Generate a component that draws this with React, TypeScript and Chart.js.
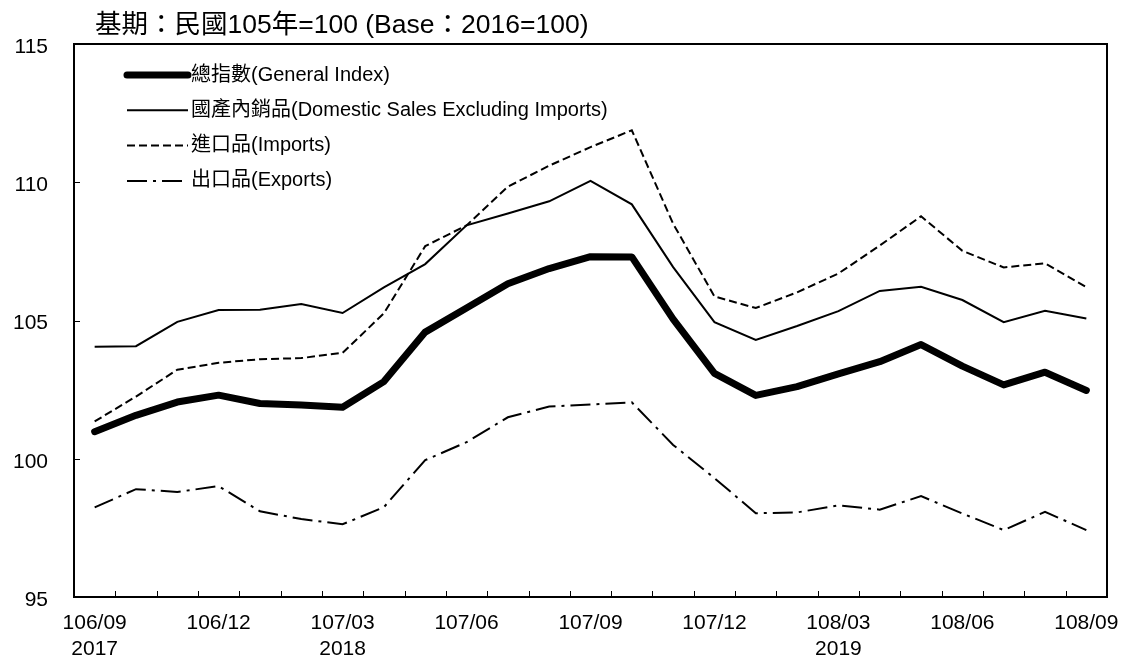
import React, { useEffect, useRef } from 'react';
import { Chart, registerables } from 'chart.js';

Chart.register(...registerables);

const months = [
  '106/09', '106/10', '106/11', '106/12', '107/01', '107/02', '107/03', '107/04', '107/05',
  '107/06', '107/07', '107/08', '107/09', '107/10', '107/11', '107/12', '108/01', '108/02',
  '108/03', '108/04', '108/05', '108/06', '108/07', '108/08', '108/09',
];

const tickYears: Record<string, string> = { '106/09': '2017', '107/03': '2018', '108/03': '2019' };

const generalIndex = [
  100.98, 101.57, 102.05, 102.3, 102.0, 101.94, 101.86, 102.79, 104.58, 105.45, 106.33, 106.88,
  107.31, 107.3, 105.05, 103.09, 102.29, 102.61, 103.07, 103.51, 104.13, 103.35, 102.67, 103.13, 102.47,
];
const domesticSales = [
  104.05, 104.07, 104.95, 105.38, 105.39, 105.6, 105.27, 106.2, 107.04, 108.44, 108.87, 109.31,
  110.05, 109.2, 106.93, 104.94, 104.3, 104.8, 105.34, 106.07, 106.22, 105.74, 104.94, 105.35, 105.07,
];
const importsIdx = [
  101.35, 102.25, 103.22, 103.47, 103.6, 103.64, 103.83, 105.26, 107.69, 108.44, 109.84, 110.6,
  111.27, 111.88, 108.5, 105.87, 105.45, 106.02, 106.7, 107.71, 108.77, 107.52, 106.92, 107.07, 106.21,
];
const exportsIdx = [
  98.24, 98.9, 98.8, 99.01, 98.1, 97.82, 97.63, 98.25, 99.95, 100.6, 101.5, 101.89,
  101.96, 102.04, 100.5, 99.3, 98.03, 98.06, 98.31, 98.16, 98.65, 98.02, 97.42, 98.08, 97.42,
];

const seriesNames = [
  '總指數(General Index)',
  '國產內銷品(Domestic Sales Excluding Imports)',
  '進口品(Imports)',
  '出口品(Exports)',
];

const titleText = '基期：民國105年=100 (Base：2016=100)';

const FONT = "'Liberation Sans', Arial, 'Noto Sans CJK TC', sans-serif";

const decorPlugin = {
  id: 'decor',
  afterDraw(chart: any) {
    const { ctx, chartArea, scales } = chart;
    const { left, right, top, bottom } = chartArea;
    const xs = scales.x;
    const ys = scales.y;
    ctx.save();
    ctx.strokeStyle = '#000';
    ctx.lineWidth = 1;
    ctx.setLineDash([]);
    ctx.beginPath();
    for (let i = 0; i < months.length - 1; i++) {
      const px = Math.round((xs.getPixelForValue(i) + xs.getPixelForValue(i + 1)) / 2) + 0.5;
      ctx.moveTo(px, bottom);
      ctx.lineTo(px, bottom - 6);
    }
    ys.ticks.forEach((t: any) => {
      if (t.value > ys.min && t.value < ys.max) {
        const py = Math.round(ys.getPixelForValue(t.value)) + 0.5;
        ctx.moveTo(left, py);
        ctx.lineTo(left + 6, py);
      }
    });
    ctx.stroke();

    ctx.lineWidth = 2;
    ctx.strokeRect(left, top, right - left, bottom - top);

    ctx.fillStyle = '#000';
    // y-axis labels
    ctx.font = `21px ${FONT}`;
    ctx.textAlign = 'right';
    ctx.textBaseline = 'middle';
    ys.ticks.forEach((t: any) => {
      ctx.fillText(String(t.value), left - 26, ys.getPixelForValue(t.value) + 3);
    });

    ctx.font = `26.5px ${FONT}`;
    ctx.textAlign = 'left';
    ctx.textBaseline = 'middle';
    ctx.fillText(titleText, left + 21, top - 18);

    // legend
    ctx.font = `20px ${FONT}`;
    chart.data.datasets.forEach((ds: any, i: number) => {
      const cy = top + 31 + i * 35.3;
      ctx.beginPath();
      ctx.lineWidth = ds.borderWidth;
      ctx.lineCap = ds.borderCapStyle || 'butt';
      ctx.setLineDash(ds.borderDash || []);
      ctx.moveTo(left + 53, cy);
      ctx.lineTo(left + 114, cy);
      ctx.stroke();
      ctx.setLineDash([]);
      ctx.fillText(ds.label, left + 117, cy);
    });
    ctx.restore();
  },
};

export default function App() {
  const ref = useRef<HTMLCanvasElement | null>(null);

  useEffect(() => {
    document.body.style.margin = '0';
    const canvas = ref.current;
    if (!canvas) return;
    const chart = new Chart(canvas, {
      type: 'line',
      data: {
        labels: months,
        datasets: [
          {
            label: seriesNames[0],
            data: generalIndex,
            borderColor: '#000',
            borderWidth: 7,
            borderCapStyle: 'round',
            borderJoinStyle: 'round',
            pointRadius: 0,
            fill: false,
            tension: 0,
          },
          {
            label: seriesNames[1],
            data: domesticSales,
            borderColor: '#000',
            borderWidth: 2,
            pointRadius: 0,
            fill: false,
            tension: 0,
          },
          {
            label: seriesNames[2],
            data: importsIdx,
            borderColor: '#000',
            borderWidth: 2,
            borderDash: [8, 4],
            pointRadius: 0,
            fill: false,
            tension: 0,
          },
          {
            label: seriesNames[3],
            data: exportsIdx,
            borderColor: '#000',
            borderWidth: 2,
            borderDash: [20, 6, 3, 6],
            pointRadius: 0,
            fill: false,
            tension: 0,
          },
        ],
      },
      options: {
        responsive: false,
        animation: false,
        layout: { padding: { left: 8, right: 16, top: 44, bottom: 0 } },
        plugins: {
          legend: { display: false },
          title: { display: false },
          tooltip: { enabled: false },
        },
        scales: {
          x: {
            offset: true,
            grid: { display: false, drawTicks: false, offset: true },
            border: { display: false },
            ticks: {
              autoSkip: false,
              maxRotation: 0,
              padding: 14,
              color: '#000',
              font: { family: FONT, size: 21, lineHeight: 1.2 },
              callback: (_v: any, idx: number) => {
                if (idx % 3 !== 0) return '';
                const m = months[idx];
                return tickYears[m] ? [m, tickYears[m]] : m;
              },
            },
            afterFit: (s: any) => {
              s.height = 62;
              s.paddingLeft = 0;
              s.paddingRight = 0;
            },
          },
          y: {
            min: 95,
            max: 115,
            grid: { display: false, drawTicks: false },
            border: { display: false },
            ticks: {
              stepSize: 5,
              padding: 26,
              color: 'rgba(0,0,0,0)',
              font: { family: FONT, size: 21 },
            },
            afterFit: (s: any) => {
              s.width = 66;
              s.paddingTop = 0;
              s.paddingBottom = 0;
            },
          },
        },
      },
      plugins: [decorPlugin],
    });
    return () => chart.destroy();
  }, []);

  return <canvas ref={ref} width={1123} height={659} style={{ display: 'block' }} />;
}
